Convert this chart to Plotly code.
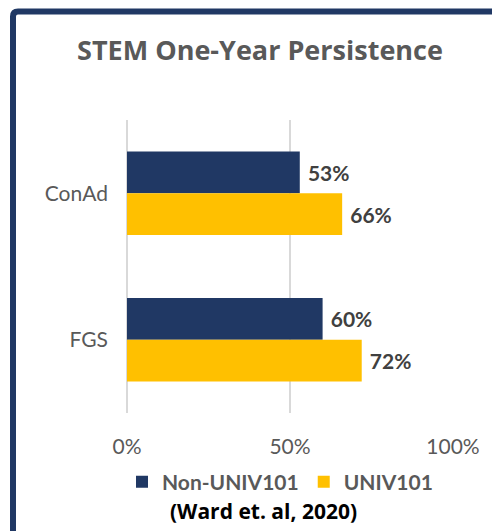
import plotly.graph_objects as go

categories = ["ConAd", "FGS"]
non_univ = [0.53, 0.60]
univ = [0.66, 0.72]
tick_vals = [0, 0.5, 1.0]
tick_text = ["0%", "50%", "100%"]

OFF = 8  # page body margin
W, H = 500 - OFF, 531 - OFF
L, T = 127 - OFF, 120 - OFF
pw, ph = 326, 293
R, B = W - L - pw, H - T - ph

def px(x):
    return (x - OFF - L) / pw

def py(y):
    return 1 - (y - OFF - T) / ph

fig = go.Figure()
fig.add_trace(go.Bar(
    y=categories, x=non_univ, orientation="h", name="Non-UNIV101",
    marker=dict(color="#203864", line=dict(width=0)),
    text=[f" {v:.0%}" for v in non_univ], textposition="outside",
    textfont=dict(family="Lato", size=21, color="#404040", weight="bold"),
    cliponaxis=False,
))
fig.add_trace(go.Bar(
    y=categories, x=univ, orientation="h", name="UNIV101",
    marker=dict(color="#FFC000", line=dict(width=0)),
    text=[f" {v:.0%}" for v in univ], textposition="outside",
    textfont=dict(family="Lato", size=21, color="#404040", weight="bold"),
    cliponaxis=False,
))

x0, y0 = px(13), py(11.5)
xr, yb = px(520), py(545)
rx, ry = 5 / pw, 5 / ph
path = (f"M {x0},{yb} L {x0},{y0 - ry} Q {x0},{y0} {x0 + rx},{y0} L {xr},{y0}")

fig.update_layout(
    width=W, height=H,
    margin=dict(l=L, r=R, t=T, b=B),
    paper_bgcolor="white", plot_bgcolor="white",
    barmode="group", bargap=0.43, bargroupgap=0,
    font=dict(family="Lato", size=21, color="#595959"),
    title=dict(text="<b>STEM One-Year Persistence</b>", x=(260 - OFF) / W, xanchor="center",
               y=1 - (51 - OFF) / H, yanchor="middle",
               font=dict(family="Open Sans", size=27, color="#595959")),
    xaxis=dict(range=[0, 1], tickvals=tick_vals, ticktext=tick_text,
               showgrid=True, gridcolor="#D9D9D9", gridwidth=1.5,
               zeroline=True, zerolinecolor="#D9D9D9", zerolinewidth=1.5,
               showline=False, ticks="", ticklabelstandoff=19,
               tickfont=dict(family="Lato", size=21, color="#595959"),
               fixedrange=True),
    yaxis=dict(autorange="reversed", showgrid=False, showline=False, ticks="",
               ticklabelstandoff=18,
               tickfont=dict(family="Lato", size=21, color="#595959")),
    legend=dict(orientation="h", x=px(280), xanchor="center", y=py(482), yanchor="middle",
                font=dict(family="Lato", size=21, color="#595959", weight="bold"),
                itemsizing="constant", bgcolor="rgba(0,0,0,0)", traceorder="normal"),
    showlegend=True,
    shapes=[dict(type="path", path=path, xref="paper", yref="paper",
                 line=dict(color="#203864", width=6))],
    annotations=[dict(text="<b>(Ward et. al, 2020)</b>", xref="paper", yref="paper",
                      x=px(263), y=py(511), xanchor="center", yanchor="middle",
                      showarrow=False, font=dict(family="Open Sans", size=21, color="black"))],
)

fig.write_html("out.html")
